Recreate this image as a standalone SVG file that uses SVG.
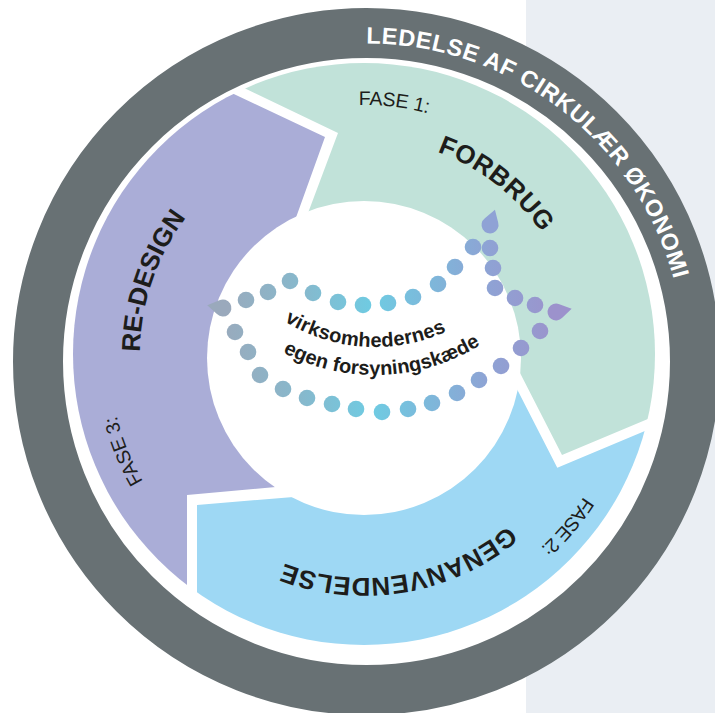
<svg xmlns="http://www.w3.org/2000/svg" xmlns:xlink="http://www.w3.org/1999/xlink" width="715" height="713" viewBox="0 0 715 713">
<style>
text{font-family:"Liberation Sans",Arial,sans-serif}
.ring{fill:#ffffff;font-size:23.5px;font-weight:bold}
.lbl{fill:#1d1d1b;font-size:26px;font-weight:bold}
.fase{fill:#1d1d1b;font-size:19.5px}
.ctr{fill:#1d1d1b;font-size:20px;font-weight:bold}
.dot{fill:url(#dotgrad)}
</style>
<defs>
<clipPath id="ringclip"><circle cx="364" cy="354" r="291"/></clipPath>
<linearGradient id="dotgrad" gradientUnits="userSpaceOnUse" x1="210" y1="0" x2="570" y2="0">
<stop offset="0" stop-color="#9ca8ba"/>
<stop offset="0.25" stop-color="#87b8cc"/>
<stop offset="0.45" stop-color="#6fcbe2"/>
<stop offset="0.64" stop-color="#80b4d9"/>
<stop offset="0.78" stop-color="#8fa2d4"/>
<stop offset="1" stop-color="#9e90ca"/>
</linearGradient>
<path id="drop" d="M16,0 L4.9,-7 A8.5,8.5 0 1,0 4.9,7 Z"/>
<path id="pRing" d="M360.95,43.55 A318,318 0 0,1 679.67,306.28"/>
<path id="pForbrug" d="M419.65,146.33 A215,215 0 0,1 558.86,263.14"/>
<path id="pRedesign" d="M140.85,373.52 A224,224 0 0,1 205.61,195.61"/>
<path id="pGenan" d="M522.39,512.39 A224,224 0 0,1 258.84,551.78"/>
<path id="pFase1" d="M342.30,105.95 A249,249 0 0,1 469.23,128.33"/>
<path id="pFase2" d="M595.33,477.00 A262,262 0 0,1 502.84,576.19"/>
<path id="pFase3" d="M155.12,500.26 A255,255 0 0,1 109.97,376.22"/>
<path id="pC1" d="M264.44,306.76 A172,172 0 0,0 473.65,315.89"/>
<path id="pC2" d="M260.28,338.83 A200,200 0 0,0 503.56,328.21"/>
</defs>
<rect x="0" y="0" width="715" height="713" fill="#ffffff"/>
<rect x="526" y="0" width="189" height="713" fill="#eaeef3"/>
<g id="ring">
<circle cx="366.5" cy="361.5" r="304" fill="#ffffff"/>
<circle cx="366.5" cy="361.5" r="328.5" fill="none" stroke="#687174" stroke-width="50"/>
<text class="ring"><textPath xlink:href="#pRing" startOffset="5.5" textLength="416" lengthAdjust="spacing">LEDELSE AF CIRKULÆR ØKONOMI</textPath></text>
</g>
<g clip-path="url(#ringclip)">
<g id="arrow-redesign"><path d="M187,713 L187,495 L330,482 L280,262 L325,137 L200,78 L0,0 L0,713 Z" fill="#aaadd7"/></g>
<g id="arrow-forbrug"><path d="M293,253 L338,133 L213,73 L213,0 L715,0 L715,397 L700,397 L562,455 L500,334 Z" fill="#c1e2d9"/></g>
<g id="arrow-genanvendelse"><path d="M502.7,361.2 L557.3,467.8 L698,408.6 L715,408.6 L715,713 L197,713 L197,505 L330,494 Z" fill="#9ed8f4"/></g>
</g>
<circle cx="364" cy="358" r="157" fill="#ffffff"/>
<g id="labels">
<text class="fase"><textPath xlink:href="#pFase1" startOffset="16.5" textLength="70" lengthAdjust="spacing">FASE 1:</textPath></text>
<text class="lbl"><textPath xlink:href="#pForbrug" startOffset="18.4" textLength="134" lengthAdjust="spacing">FORBRUG</textPath></text>
<text class="fase"><textPath xlink:href="#pFase2" startOffset="22.9" textLength="67" lengthAdjust="spacing">FASE 2:</textPath></text>
<text class="lbl"><textPath xlink:href="#pGenan" startOffset="19.5" textLength="238" lengthAdjust="spacing">GENANVENDELSE</textPath></text>
<text class="fase"><textPath xlink:href="#pFase3" startOffset="22.25" textLength="71" lengthAdjust="spacing">FASE 3:</textPath></text>
<text class="lbl"><textPath xlink:href="#pRedesign" startOffset="21.5" textLength="144.6" lengthAdjust="spacing">RE-DESIGN</textPath></text>
</g>
<g id="center">
<text class="ctr"><textPath xlink:href="#pC1" startOffset="24.6" textLength="169" lengthAdjust="spacing">virksomhedernes</textPath></text>
<text class="ctr"><textPath xlink:href="#pC2" startOffset="26.2" textLength="207" lengthAdjust="spacing">egen forsyningskæde</textPath></text>
</g>
<g id="connectors" class="dot">
<use xlink:href="#drop" fill="#9aa9bc" transform="translate(223,308) rotate(190)"/>
<circle cx="246" cy="300" r="8.3"/>
<circle cx="268" cy="292" r="8.3"/>
<circle cx="290" cy="281" r="8.3"/>
<circle cx="313" cy="293" r="8.3"/>
<circle cx="338" cy="302" r="8.3"/>
<circle cx="363" cy="305" r="8.3"/>
<circle cx="388" cy="303" r="8.3"/>
<circle cx="413" cy="297" r="8.3"/>
<circle cx="438" cy="284" r="8.3"/>
<circle cx="455" cy="267" r="8.3"/>
<circle cx="473" cy="247" r="8.3"/>
<use xlink:href="#drop" fill="#8fa2d5" transform="translate(490,225) rotate(-72)"/>
<circle cx="490" cy="248" r="8.3"/>
<circle cx="493" cy="268" r="8.3"/>
<circle cx="495" cy="288" r="8.3"/>
<circle cx="515" cy="298" r="8.3"/>
<circle cx="535" cy="305" r="8.3"/>
<use xlink:href="#drop" fill="#9c92cc" transform="translate(556,312) rotate(-12)"/>
<circle cx="235" cy="332" r="8.3"/>
<circle cx="248" cy="352" r="8.3"/>
<circle cx="260" cy="375" r="8.3"/>
<circle cx="283" cy="389" r="8.3"/>
<circle cx="307" cy="398" r="8.3"/>
<circle cx="332" cy="404" r="8.3"/>
<circle cx="356" cy="409" r="8.3"/>
<circle cx="382" cy="412" r="8.3"/>
<circle cx="408" cy="409" r="8.3"/>
<circle cx="432" cy="403" r="8.3"/>
<circle cx="457" cy="393" r="8.3"/>
<circle cx="479" cy="380" r="8.3"/>
<circle cx="501" cy="366" r="8.3"/>
<circle cx="521" cy="348" r="8.3"/>
<circle cx="540" cy="331" r="8.3"/>
</g>
</svg>
